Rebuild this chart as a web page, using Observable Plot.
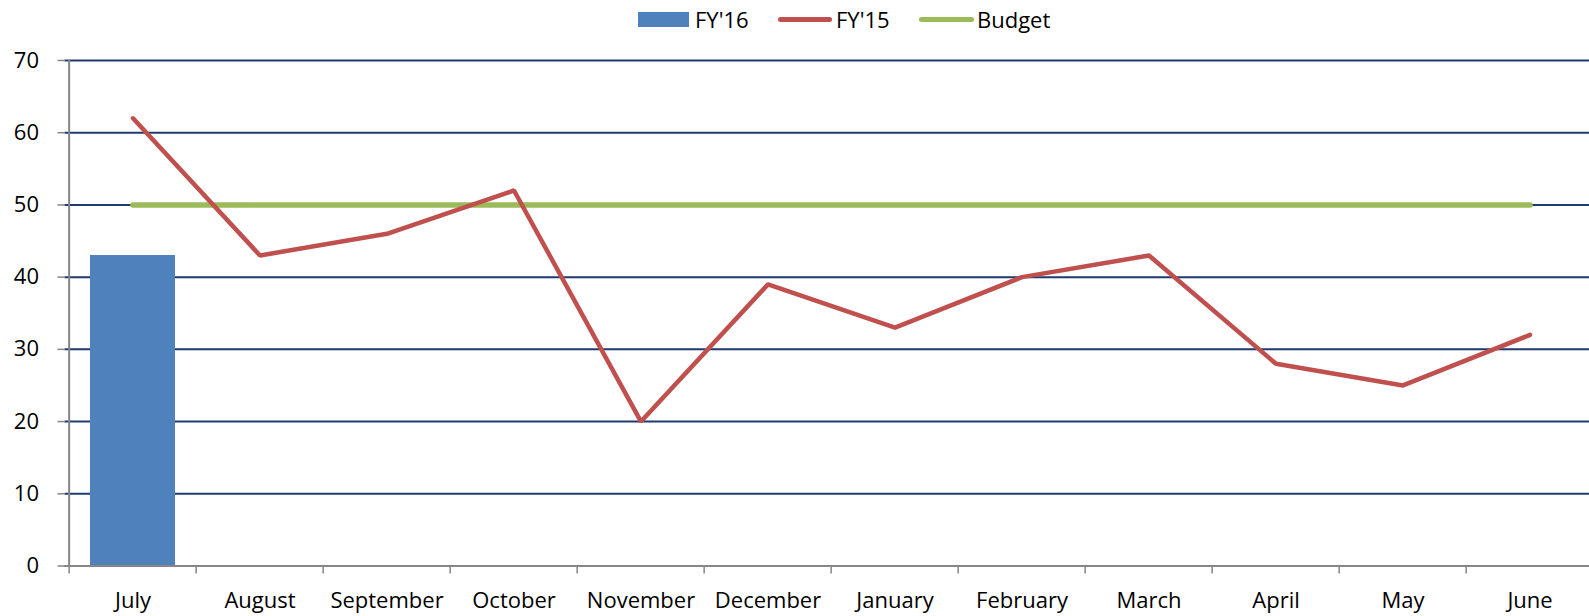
<!DOCTYPE html>
<html><head><meta charset="utf-8">
<script src="https://cdn.jsdelivr.net/npm/d3@7"></script>
<script src="https://cdn.jsdelivr.net/npm/@observablehq/plot@0.6"></script>
<style>
html,body{margin:0;padding:0;overflow:hidden;background:#fff;font-family:"Open Sans",sans-serif;}
#legend{position:relative;height:40px;width:1589px;}
.sw{position:absolute;}
.lab{position:absolute;top:0;height:39px;line-height:39px;font-size:22px;color:#000;}
svg{max-width:none !important;display:block;}
</style>
</head><body>
<div id="legend">
  <div class="sw" style="left:638px;top:12px;width:51px;height:15px;background:#4F81BD"></div>
  <div class="lab" style="left:695px">FY'16</div>
  <div class="sw" style="left:778px;top:17px;width:54px;height:5px;border-radius:3px;background:#C0504D"></div>
  <div class="lab" style="left:836px">FY'15</div>
  <div class="sw" style="left:919px;top:17px;width:55px;height:5px;border-radius:3px;background:#9BBB59"></div>
  <div class="lab" style="left:977px">Budget</div>
</div>
<div id="chart"></div>
<script>
const months = ["July","August","September","October","November","December","January","February","March","April","May","June"];
const fy15 = [62,43,46,52,20,39,33,40,43,28,25,32];
const budget = [50,50,50,50,50,50,50,50,50,50,50,50];
const fy16Months = ["July"];
const fy16 = [43];
const yTicks = [0,10,20,30,40,50,60,70];

const W = 1600, ML = 64.5, MR = 3;
const bw = (W - ML - MR) / months.length;

const lineData = months.map((m,i)=>({m, v: fy15[i]}));
const budgetData = months.map((m,i)=>({m, v: budget[i]}));
const barData = fy16Months.map((m,i)=>({m, v: fy16[i]}));

const gray = "#868686";
const chart = Plot.plot({
  width: W, height: 576,
  marginLeft: ML, marginRight: MR, marginTop: 20, marginBottom: 50.5,
  style: {fontFamily: "'Open Sans', sans-serif", fontSize: "22px", maxWidth: "none", background: "#fff"},
  x: {type: "band", domain: months, padding: 0, label: null},
  y: {domain: [0, 70], label: null},
  marks: [
    Plot.gridY(yTicks, {stroke: "#1F3A6E", strokeOpacity: 1, strokeWidth: 2}),
    Plot.barY(barData, {x: "m", y: "v", fill: "#4F81BD", insetLeft: 21, insetRight: 21}),
    Plot.line(budgetData, {x: "m", y: "v", stroke: "#9BBB59", strokeWidth: 5.5, strokeLinecap: "round"}),
    Plot.line(lineData, {x: "m", y: "v", stroke: "#C0504D", strokeWidth: 4.5, strokeLinecap: "round", strokeLinejoin: "miter"}),
    Plot.ruleY([0], {stroke: gray, strokeWidth: 2}),
    Plot.ruleX([months[0]], {dx: -bw/2, stroke: gray, strokeWidth: 2}),
    Plot.axisY({ticks: yTicks, tickSize: 7, tickPadding: 19, stroke: gray, strokeWidth: 1.5, fill: "#000", fontSize: 22, label: null}),
    Plot.axisX({tickSize: 0, tickPadding: 26, fill: "#000", fontSize: 22, label: null}),
    Plot.axisX({tickSize: 8, tickFormat: () => "", dx: -bw/2, stroke: gray, strokeWidth: 1.5, label: null})
  ]
});
document.getElementById("chart").appendChild(chart);
</script>
</body></html>
